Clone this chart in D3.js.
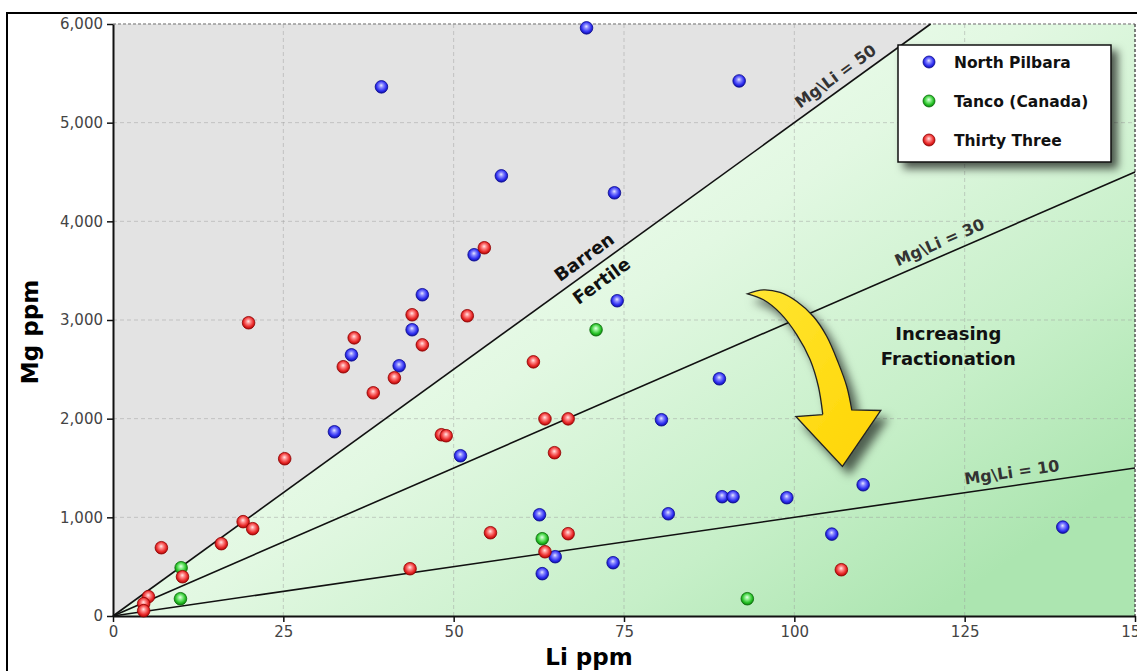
<!DOCTYPE html>
<html>
<head>
<meta charset="utf-8">
<script src="https://cdn.jsdelivr.net/npm/d3@7/dist/d3.min.js"></script>
<style>
  html, body { margin: 0; padding: 0; background: #fff; }
  svg { display: block; }
</style>
</head>
<body>
<div id="chart"></div>
<script>
// ---------- DATA ----------
const xTicks = [0, 25, 50, 75, 100, 125, 150];
const yTicks = [0, 1000, 2000, 3000, 4000, 5000, 6000];
const seriesNames = ["North Pilbara", "Tanco (Canada)", "Thirty Three"];

// North Pilbara [Li ppm, Mg ppm]
const northPilbara = [
  [39.4, 5363], [69.5, 5961], [91.9, 5423], [57.0, 4461], [73.6, 4289],
  [53.0, 3661], [45.4, 3256], [74.0, 3195], [43.9, 2901], [35.0, 2647],
  [42.0, 2536], [32.5, 1867], [51.0, 1624], [80.5, 1989], [89.0, 2404],
  [89.4, 1209], [91.0, 1209], [98.9, 1199], [110.1, 1330], [81.5, 1036],
  [62.6, 1026], [105.5, 830], [139.4, 901], [63.0, 429], [64.9, 601],
  [73.4, 540]
];
// Tanco (Canada)
const tanco = [
  [70.9, 2901], [63.0, 783], [10.0, 489], [9.9, 175], [93.1, 175]
];
// Thirty Three
const thirtyThree = [
  [54.5, 3732], [43.9, 3053], [52.0, 3043], [35.4, 2819], [45.4, 2748],
  [33.8, 2526], [41.3, 2414], [38.2, 2262], [19.9, 2972], [61.7, 2576],
  [63.4, 1998], [66.8, 1998], [48.2, 1837], [48.9, 1827], [64.8, 1655],
  [25.2, 1594], [19.1, 956], [20.5, 885], [15.9, 733], [7.1, 692],
  [10.2, 398], [5.2, 196], [4.5, 125], [4.5, 54], [55.4, 844],
  [66.8, 834], [63.4, 651], [43.6, 479], [106.9, 469]
];

// Mg/Li ratio reference lines and label positions (Li along the line)
const ratios = [50, 30, 10];
const ratioLabelLi = [107.2, 122.1, 132.2];

// Yellow arrow outline in data units [Li, Mg]
const arrowOuter = [
  [93.12, 3266], [95.47, 3306], [97.92, 3279], [100.37, 3187], [102.80, 3035],
  [104.77, 2833], [106.47, 2563], [107.70, 2326], [108.43, 2090]
];
const arrowHead = [[112.69, 2083], [107.06, 1516], [100.22, 2022], [104.18, 2040]];
const arrowInner = [
  [104.18, 2040], [103.53, 2326], [102.32, 2597], [100.37, 2850], [97.92, 3070],
  [95.47, 3205], [93.12, 3266]
];
const fractionationText = [["Increasing", 122.6, 2799], ["Fractionation", 122.6, 2546]];

// ---------- LAYOUT ----------
const W = 1137, H = 671;
const xMin = 0, xMax = 150, yMin = 0, yMax = 6000;
const x = d3.scaleLinear().domain([xMin, xMax]).range([113, 1135]);
const y = d3.scaleLinear().domain([yMin, yMax]).range([616, 24]);

const svg = d3.select("#chart").append("svg").attr("width", W).attr("height", H);
const defs = svg.append("defs");

// sphere gradients
const sphere = {
  "North Pilbara": ["#e8e8ff", "#8a8aff", "#2e2ef0", "#1010a0", "#0a0a90"],
  "Tanco (Canada)": ["#e8ffe8", "#8ef08e", "#26c026", "#0c800c", "#0a6a0a"],
  "Thirty Three": ["#ffe8e8", "#ff8c8c", "#e82828", "#a80808", "#900000"]
};
seriesNames.forEach((n, i) => {
  const g = defs.append("radialGradient").attr("id", "sph" + i)
    .attr("cx", "50%").attr("cy", "45%").attr("r", "55%").attr("fx", "48%").attr("fy", "38%");
  const c = sphere[n];
  g.append("stop").attr("offset", "0%").attr("stop-color", c[0]);
  g.append("stop").attr("offset", "30%").attr("stop-color", c[1]);
  g.append("stop").attr("offset", "72%").attr("stop-color", c[2]);
  g.append("stop").attr("offset", "100%").attr("stop-color", c[3]);
});

// green gradient
const gg = defs.append("linearGradient").attr("id", "greenGrad")
  .attr("gradientUnits", "userSpaceOnUse")
  .attr("x1", x(60)).attr("y1", y(6000)).attr("x2", x(120)).attr("y2", y(0));
gg.append("stop").attr("offset", "0%").attr("stop-color", "#f4fff4");
gg.append("stop").attr("offset", "40%").attr("stop-color", "#e2f8e2");
gg.append("stop").attr("offset", "75%").attr("stop-color", "#c6efc8");
gg.append("stop").attr("offset", "100%").attr("stop-color", "#ace5b0");

const yg = defs.append("linearGradient").attr("id", "yellowGrad")
  .attr("x1", "0").attr("y1", "0").attr("x2", "1").attr("y2", "1");
yg.append("stop").attr("offset", "0%").attr("stop-color", "#ffe633");
yg.append("stop").attr("offset", "100%").attr("stop-color", "#ffd400");

const sh = defs.append("filter").attr("id", "shadow")
  .attr("x", "-30%").attr("y", "-30%").attr("width", "160%").attr("height", "160%");
sh.append("feDropShadow").attr("dx", 6).attr("dy", 6).attr("stdDeviation", 4)
  .attr("flood-color", "#000").attr("flood-opacity", 0.65);

const sh2 = defs.append("filter").attr("id", "shadow2")
  .attr("x", "-30%").attr("y", "-30%").attr("width", "160%").attr("height", "160%");
sh2.append("feDropShadow").attr("dx", 7).attr("dy", 8).attr("stdDeviation", 5)
  .attr("flood-color", "#000").attr("flood-opacity", 0.6);

// outer frame
svg.append("rect").attr("x", 7).attr("y", 13).attr("width", W + 20).attr("height", H + 20)
  .attr("fill", "none").attr("stroke", "#000").attr("stroke-width", 2);

// background regions
const lineTop = yMax / ratios[0]; // Li where Mg/Li=50 meets top
svg.append("path")
  .attr("d", d3.line()([[x(0), y(0)], [x(lineTop), y(yMax)], [x(0), y(yMax)]]) + "Z")
  .attr("fill", "#e3e3e3");
svg.append("path")
  .attr("d", d3.line()([[x(0), y(0)], [x(lineTop), y(yMax)], [x(xMax), y(yMax)], [x(xMax), y(0)]]) + "Z")
  .attr("fill", "url(#greenGrad)");

// grid
const grid = svg.append("g");
xTicks.slice(1, -1).forEach(t => {
  grid.append("line").attr("x1", x(t)).attr("x2", x(t)).attr("y1", y(yMin)).attr("y2", y(yMax))
    .attr("stroke", "#9a9a9a").attr("stroke-opacity", 0.45).attr("stroke-dasharray", "4,3");
});
yTicks.slice(1, -1).forEach(t => {
  grid.append("line").attr("x1", x(xMin)).attr("x2", x(xMax)).attr("y1", y(t)).attr("y2", y(t))
    .attr("stroke", "#9a9a9a").attr("stroke-opacity", 0.45).attr("stroke-dasharray", "4,3");
});
// top and right border (dashed)
grid.append("line").attr("x1", x(xMin)).attr("x2", x(xMax)).attr("y1", y(yMax)).attr("y2", y(yMax))
  .attr("stroke", "#999").attr("stroke-width", 1.5).attr("stroke-dasharray", "3,2");
grid.append("line").attr("x1", x(xMax)).attr("x2", x(xMax)).attr("y1", y(yMax)).attr("y2", y(yMin))
  .attr("stroke", "#555").attr("stroke-width", 1.5).attr("stroke-dasharray", "3,2");

// ratio lines
ratios.forEach(r => {
  const liEnd = Math.min(xMax, yMax / r);
  svg.append("line").attr("x1", x(0)).attr("y1", y(0)).attr("x2", x(liEnd)).attr("y2", y(liEnd * r))
    .attr("stroke", "#111").attr("stroke-width", 1.6);
});

function angleFor(r) {
  return Math.atan2(y(0) - y(r * 10), x(10) - x(0)) * 180 / Math.PI;
}

// ratio labels
ratios.forEach((r, i) => {
  const li = ratioLabelLi[i];
  const a = angleFor(r);
  svg.append("text")
    .attr("transform", `translate(${x(li)},${y(li * r)}) rotate(${-a})`)
    .attr("y", -13.5).attr("dy", "0.35em")
    .attr("text-anchor", "middle")
    .attr("font-family", "DejaVu Sans, sans-serif").attr("font-weight", "bold")
    .attr("font-size", 16).attr("fill", "#333")
    .text("Mg\\Li = " + r);
});

// Barren / Fertile
{
  const li = 70.4, r = ratios[0], a = angleFor(r);
  const g = svg.append("g").attr("transform", `translate(${x(li)},${y(li * r)}) rotate(${-a})`)
    .attr("font-family", "DejaVu Sans, sans-serif").attr("font-weight", "bold")
    .attr("font-size", 18).attr("fill", "#111").attr("text-anchor", "middle");
  g.append("text").attr("y", -14.5).attr("dy", "0.35em").text("Barren");
  g.append("text").attr("y", 15).attr("dy", "0.35em").text("Fertile");
}

// axes
const yAxis = d3.axisLeft(y).tickValues(yTicks).tickFormat(d3.format(",")).tickSize(6).tickSizeOuter(0);
const xAxis = d3.axisBottom(x).tickValues(xTicks).tickFormat(d3.format("d")).tickSize(6).tickSizeOuter(0);
const gy = svg.append("g").attr("transform", `translate(${x(0)},0)`).call(yAxis);
const gx = svg.append("g").attr("transform", `translate(0,${y(0)})`).call(xAxis);
[gx, gy].forEach(g => {
  g.select(".domain").attr("stroke", "#111").attr("stroke-width", 2);
  g.selectAll(".tick line").attr("stroke", "#111").attr("stroke-width", 1.5);
  g.selectAll(".tick text").attr("font-family", "DejaVu Sans, sans-serif")
    .attr("font-size", 15).attr("fill", "#444");
});
gy.selectAll(".tick text").attr("x", -10);
gx.selectAll(".tick text").attr("y", 10);

// axis titles
svg.append("text").attr("transform", `translate(38,${(y(0) + y(yMax)) / 2 + 12}) rotate(-90)`)
  .attr("text-anchor", "middle").attr("font-family", "DejaVu Sans, sans-serif")
  .attr("font-weight", "bold").attr("font-size", 23).attr("fill", "#000").text("Mg ppm");
svg.append("text").attr("x", 589).attr("y", 665)
  .attr("text-anchor", "middle").attr("font-family", "DejaVu Sans, sans-serif")
  .attr("font-weight", "bold").attr("font-size", 23).attr("fill", "#000").text("Li ppm");

// arrow
{
  const pts = a => a.map(d => [x(d[0]), y(d[1])]);
  const curve = d3.line().curve(d3.curveCatmullRom.alpha(0.5));
  let dPath = curve(pts(arrowOuter));
  pts(arrowHead).forEach(p => { dPath += `L${p[0]},${p[1]}`; });
  dPath += curve(pts(arrowInner)).replace(/^M/, "L") + "Z";
  svg.append("path").attr("d", dPath).attr("fill", "url(#yellowGrad)")
    .attr("stroke", "#222").attr("stroke-width", 1.3).attr("stroke-linejoin", "miter")
    .attr("filter", "url(#shadow2)");
}

// fractionation text
fractionationText.forEach(t => {
  svg.append("text").attr("x", x(t[1])).attr("y", y(t[2]))
    .attr("text-anchor", "middle").attr("font-family", "DejaVu Sans, sans-serif")
    .attr("font-weight", "bold").attr("font-size", 18).attr("fill", "#111").text(t[0]);
});

// points
const allSeries = [northPilbara, tanco, thirtyThree];
allSeries.forEach((data, i) => {
  const stroke = sphere[seriesNames[i]][4];
  svg.append("g").selectAll("circle").data(data).join("circle")
    .attr("cx", d => x(d[0])).attr("cy", d => y(d[1])).attr("r", 6.3)
    .attr("fill", `url(#sph${i})`).attr("stroke", stroke).attr("stroke-width", 0.8);
});

// legend
{
  const lg = svg.append("g").attr("transform", "translate(898,45)");
  lg.append("rect").attr("width", 213).attr("height", 117).attr("fill", "#fff")
    .attr("stroke", "#111").attr("stroke-width", 1.5).attr("filter", "url(#shadow)");
  seriesNames.forEach((n, i) => {
    const row = lg.append("g").attr("transform", `translate(0,${17 + i * 39})`);
    row.append("circle").attr("cx", 31).attr("cy", 0).attr("r", 6)
      .attr("fill", `url(#sph${i})`).attr("stroke", sphere[n][4]).attr("stroke-width", 0.8);
    row.append("text").attr("x", 56).attr("y", 0).attr("dy", "0.36em")
      .attr("font-family", "DejaVu Sans, sans-serif").attr("font-weight", "bold")
      .attr("font-size", 15.5).attr("fill", "#111").text(n);
  });
}
</script>
</body>
</html>
